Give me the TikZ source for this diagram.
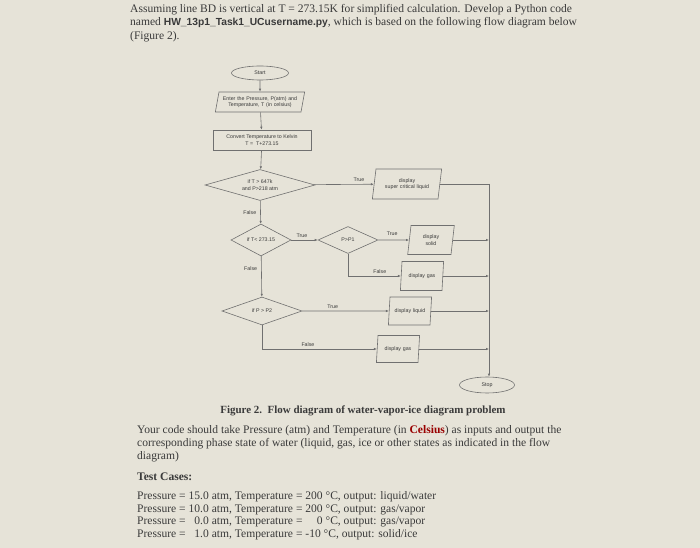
\documentclass[tikz,border=0pt]{standalone}
\usepackage{fontspec}
\setmainfont{Liberation Serif}
\setsansfont{Liberation Sans}
\usetikzlibrary{shapes.geometric,arrows.meta}
\definecolor{paper}{HTML}{E6E3D8}
\definecolor{ink}{HTML}{3A3A3A}
\definecolor{flow}{HTML}{707070}
\begin{document}
\begin{tikzpicture}[x=1bp,y=-1bp,
        flowtext/.style={font=\sffamily\fontsize{5.3}{6.3}\selectfont,text=ink,align=center,inner sep=0pt},
        line/.style={draw=flow,line width=0.6pt,-{Latex[length=3pt,width=2.5pt]}},
        bodytext/.style={anchor=west,inner sep=0pt,text=ink,font=\fontsize{11.6}{13}\selectfont}
    ]
    \tikzset{
        terminal/.style = {ellipse,draw=flow,line width=0.6pt,flowtext,minimum width=57bp,minimum height=14bp},
        inout/.style = {trapezium,trapezium left angle=72,trapezium right angle=108,trapezium stretches body,draw=flow,line width=0.6pt,flowtext,minimum height=#1},
        process/.style = {rectangle,draw=flow,line width=0.6pt,flowtext,minimum width=98bp,minimum height=20bp},
        decision/.style = {diamond,aspect=2.4,draw=flow,line width=0.6pt,flowtext,inner sep=0pt},
        tag/.style = {flowtext}
    }
    \fill[paper] (0,0) rectangle (700,548);
    % page text
    \node[bodytext] at (130,10) {Assuming line BD is vertical at T = 273.15K for simplified calculation. Develop a Python code};
    \node[bodytext] at (130,23) {named \textsf{\bfseries\fontsize{10.3}{12}\selectfont HW\_13p1\_Task1\_UCusername.py}, which is based on the following flow diagram below};
    \node[bodytext] at (130,37) {(Figure 2).};
    % flow diagram
    \node[terminal] (start) at (260,73) {Start};
    \node[inout=20bp,text width=82bp,inner xsep=0pt] (enter) at (260,102) {Enter the Pressure, P(atm) and\\Temperature, T (in celsius)};
    \node[process] (convert) at (262,140) {Convert Temperature to Kelvin\\T =\ \ T+273.15};
    \node[decision,minimum width=110bp,minimum height=31bp] (crit) at (260,185) {if T > 647k\\and P>218 atm};
    \node[inout=30bp,text width=62bp,inner xsep=0pt] (super) at (407,184) {display\\super critical liquid};
    \node[decision,minimum width=60bp,minimum height=32bp] (cold) at (261,240) {if T< 273.15};
    \node[decision,minimum width=60bp,minimum height=27bp] (pone) at (348,240) {P>P1};
    \node[inout=29bp,text width=40bp,inner xsep=0pt] (solid) at (431,240) {display\\solid};
    \node[inout=29bp,text width=40bp,inner xsep=0pt] (gasa) at (422,276) {display gas};
    \node[decision,minimum width=80bp,minimum height=28bp] (ptwo) at (262,311) {if P > P2};
    \node[inout=28bp,text width=40bp,inner xsep=0pt] (liquid) at (410,311) {display liquid};
    \node[inout=27bp,text width=40bp,inner xsep=0pt] (gasb) at (398,349) {display gas};
    \node[terminal,minimum width=55bp,minimum height=16bp] (stop) at (487,385) {Stop};
    \coordinate (bus) at (489,184);

    \draw[line] (start) -- (enter);
    \draw[line] (enter) -- (convert);
    \draw[line] (convert) -- (crit);
    \draw[line] (crit) -- node[tag,above=2bp,pos=0.75] {True} (super);
    \draw[line] (crit) -- node[tag,left=4bp,pos=0.5] {False} (cold);
    \draw[line] (cold) -- node[tag,above=2bp,pos=0.4] {True} (pone);
    \draw[line] (pone) -- node[tag,above=4bp,pos=0.45] {True} (solid);
    \draw[line] (pone.south) |- node[tag,above=2bp,pos=0.8] {False} (gasa);
    \draw[line] (cold) -- node[tag,left=4bp,pos=0.3] {False} (ptwo);
    \draw[line] (ptwo) -- node[tag,above=2bp,pos=0.35] {True} (liquid);
    \draw[line] (ptwo.south) |- node[tag,above=2bp,pos=0.7] {False} (gasb);
    \draw[draw=flow,line width=0.6pt] (super.east) -| (bus);
    \draw[line] (bus) -- (stop.north -| bus);
    \foreach \outbox in {solid,gasa,liquid,gasb}
        \draw[line] (\outbox.east) -- (\outbox.east -| bus);
    % caption and task text
    \node[inner sep=0pt,text=ink,font=\bfseries\fontsize{11}{12}\selectfont] at (363,411) {Figure 2.\ \ Flow diagram of water-vapor-ice diagram problem};
    \node[bodytext] at (137,431) {Your code should take Pressure (atm) and Temperature (in \textcolor{red!60!black}{\bfseries Celsius}) as inputs and output the};
    \node[bodytext] at (137,444) {corresponding phase state of water (liquid, gas, ice or other states as indicated in the flow};
    \node[bodytext] at (137,457) {diagram)};
    \node[bodytext,font=\bfseries\fontsize{11.6}{13}\selectfont] at (137,477) {Test Cases:};
    \node[bodytext] at (137,497) {Pressure = 15.0 atm, Temperature = 200 °C, output: liquid/water};
    \node[bodytext] at (137,510) {Pressure = 10.0 atm, Temperature = 200 °C, output: gas/vapor};
    \node[bodytext] at (137,522) {Pressure =\ \ \ 0.0 atm, Temperature =\ \ \ \ \ 0 °C, output: gas/vapor};
    \node[bodytext] at (137,535) {Pressure =\ \ \ 1.0 atm, Temperature = -10 °C, output: solid/ice};
\end{tikzpicture}
\end{document}
